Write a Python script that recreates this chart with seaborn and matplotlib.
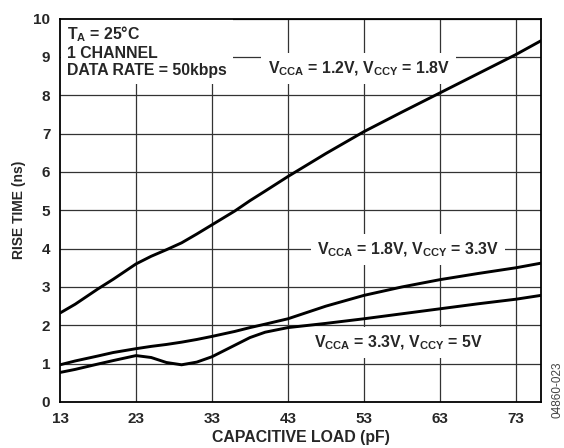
import pandas as pd
import matplotlib
matplotlib.use('Agg')
from matplotlib import pyplot as plt
import seaborn as sns

# capacitive load (pF)
load = [13, 15, 18, 20, 23, 25, 27, 29, 31, 33, 36, 38, 40, 43, 48, 53, 58, 63, 68, 73, 76.3]

# rise time (ns) for each supply combination
rise_12_18 = [2.32, 2.55, 2.95, 3.2, 3.6, 3.8, 3.97, 4.15, 4.38, 4.62, 4.98, 5.25, 5.5, 5.88,
              6.48, 7.05, 7.56, 8.06, 8.56, 9.06, 9.42]
rise_18_33 = [0.97, 1.07, 1.2, 1.29, 1.39, 1.45, 1.5, 1.56, 1.63, 1.71, 1.84, 1.94, 2.03, 2.17,
              2.5, 2.78, 3.0, 3.19, 3.35, 3.5, 3.62]
rise_33_5 = [0.77, 0.85, 0.99, 1.08, 1.21, 1.16, 1.03, 0.97, 1.04, 1.18, 1.48, 1.68, 1.82, 1.94,
             2.05, 2.17, 2.3, 2.43, 2.56, 2.68, 2.78]

xticks = [13, 23, 33, 43, 53, 63, 73]
yticks = list(range(0, 11))

df = pd.concat([
    pd.DataFrame({'load': load, 'rise': rise_12_18, 'supply': '1.2/1.8'}),
    pd.DataFrame({'load': load, 'rise': rise_18_33, 'supply': '1.8/3.3'}),
    pd.DataFrame({'load': load, 'rise': rise_33_5, 'supply': '3.3/5'}),
])

sns.set_style('white')
plt.rcParams['font.family'] = ['Liberation Sans', 'DejaVu Sans']
plt.rcParams['font.weight'] = 'bold'
plt.rcParams['mathtext.fontset'] = 'custom'
plt.rcParams['mathtext.rm'] = 'Liberation Sans:bold'
plt.rcParams['mathtext.it'] = 'Liberation Sans:bold'
plt.rcParams['mathtext.bf'] = 'Liberation Sans:bold'
plt.rcParams['mathtext.sf'] = 'Liberation Sans:bold'

fig = plt.figure(figsize=(5.64, 4.48), dpi=100)
ax = fig.add_axes([0.1064, 0.1027, 0.8528, 0.856])

sns.lineplot(data=df, x='load', y='rise', hue='supply', palette=['black'] * 3,
             linewidth=2.1, legend=False, ax=ax, zorder=5)

ax.set_xlim(13, 76.3)
ax.set_ylim(0, 10)
ax.set_xticks(xticks)
ax.set_yticks(yticks)
ax.tick_params(axis='both', length=0, labelsize=11)
ax.tick_params(axis='x', pad=7)
ax.tick_params(axis='y', pad=7)
for lab in ax.get_xticklabels() + ax.get_yticklabels():
    lab.set_fontweight('bold')

# grid drawn at the tick positions
for xv in xticks[1:]:
    ax.axvline(xv, color='#333333', linewidth=0.9, zorder=1)
for yv in yticks[1:]:
    ax.axhline(yv, color='#333333', linewidth=0.9, zorder=1)

for sp in ax.spines.values():
    sp.set_color('black')
    sp.set_linewidth(1.3)
    sp.set_zorder(6)

ax.set_xlabel('CAPACITIVE LOAD (pF)', fontsize=11.4, fontweight='bold', labelpad=3)
ax.set_ylabel('RISE TIME (ns)', fontsize=10, fontweight='bold', labelpad=5)

box = dict(boxstyle='square,pad=0.4', facecolor='white', edgecolor='none')
ax.text(0.0146, 0.984, '$T_A$ = 25°C\n1 CHANNEL\nDATA RATE = 50kbps', transform=ax.transAxes,
        ha='left', va='top', fontsize=11.4, fontweight='bold', linespacing=1.15, bbox=box, zorder=3)
ax.text(52.3, 8.58, '$V_{CCA}$ = 1.2V, $V_{CCY}$ = 1.8V', ha='center', va='baseline',
        fontsize=11.4, fontweight='bold', bbox=box, zorder=3)
ax.text(58.8, 3.86, '$V_{CCA}$ = 1.8V, $V_{CCY}$ = 3.3V', ha='center', va='baseline',
        fontsize=11.4, fontweight='bold', bbox=box, zorder=3)
ax.text(57.5, 1.43, '$V_{CCA}$ = 3.3V, $V_{CCY}$ = 5V', ha='center', va='baseline',
        fontsize=11.4, fontweight='bold', bbox=box, zorder=3)

fig.text(0.989, 0.068, '04860-023', rotation=90, ha='center', va='bottom',
         fontsize=8.5, fontweight='normal', color='#444444')

fig.savefig('out.png', dpi=100)
